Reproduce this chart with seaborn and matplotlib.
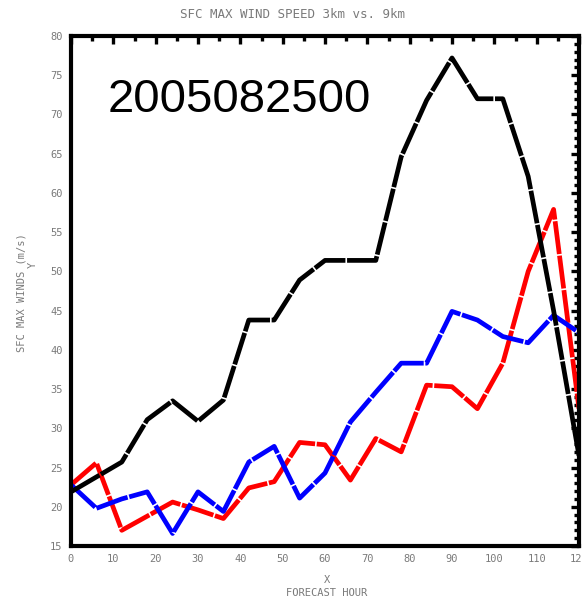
import matplotlib
matplotlib.use("Agg")
import matplotlib.pyplot as plt
from matplotlib.ticker import MultipleLocator
import seaborn as sns
import pandas as pd

# forecast hours and max surface winds (m/s)
hours = [0, 6, 12, 18, 24, 30, 36, 42, 48, 54, 60, 66, 72, 78, 84, 90, 96, 102, 108, 114, 120]
black_wind = [21.9, 23.8, 25.7, 31.1, 33.5, 30.9, 33.6, 43.8, 43.8, 48.9, 51.4, 51.4, 51.4,
              64.6, 71.8, 77.2, 72.0, 72.0, 62.1, 45.0, 26.5]
blue_wind = [22.8, 19.8, 21.0, 21.9, 16.6, 21.9, 19.4, 25.7, 27.7, 21.1, 24.3, 30.8, 34.6,
             38.3, 38.3, 44.9, 43.8, 41.7, 40.9, 44.4, 42.2]
red_wind = [22.8, 25.6, 17.0, 18.8, 20.6, 19.6, 18.5, 22.4, 23.2, 28.2, 27.9, 23.4, 28.7,
            27.0, 35.5, 35.3, 32.5, 38.3, 50.0, 57.9, 32.5]

sns.set_style("white")
plt.rcParams['font.family'] = ['DejaVu Sans Mono', 'DejaVu Sans']

gray = '#7a7a7a'
fig = plt.figure(figsize=(5.82, 5.99), dpi=100)
ax = fig.add_axes([71 / 582, 1 - 546 / 599, 508 / 582, 510 / 599])

for vals, col in [(red_wind, 'red'), (blue_wind, 'blue'), (black_wind, 'black')]:
    df = pd.DataFrame({'hour': hours, 'wind': vals})
    sns.lineplot(x='hour', y='wind', data=df, color=col, linewidth=3.4, ax=ax)
    ln = ax.get_lines()[-1]
    ln.set_dashes((7, 0.35))
    ln.set_solid_capstyle('butt')
    ln.set_dash_capstyle('butt')

ax.set_xlim(0, 120)
ax.set_ylim(15, 80)
ax.xaxis.set_major_locator(MultipleLocator(10))
ax.xaxis.set_minor_locator(MultipleLocator(5))
ax.yaxis.set_major_locator(MultipleLocator(5))
ax.yaxis.set_minor_locator(MultipleLocator(1))
ax.tick_params(which='both', direction='in', top=True, right=True, width=2.4,
               color='black', labelcolor=gray, labelsize=7.5)
ax.tick_params(which='major', length=6)
ax.tick_params(which='minor', length=3.8)
ax.tick_params(axis='x', which='both', pad=6)
ax.tick_params(axis='y', which='both', pad=6)
for s in ax.spines.values():
    s.set_linewidth(3)
    s.set_color('black')
    s.set_zorder(5)
ax.set_xlabel('')
ax.set_ylabel('')

ax.text(0.073, 0.851, '2005082500', transform=ax.transAxes, fontsize=34,
        family='Liberation Sans', color='black', va='baseline', ha='left')

fig.text(0.503, 1 - 15 / 599, 'SFC MAX WIND SPEED 3km vs. 9km', ha='center', va='center',
         fontsize=9, color=gray)
fig.text(327 / 582, 1 - 580 / 599, 'X', ha='center', va='center', fontsize=7.5, color=gray)
fig.text(327 / 582, 1 - 593 / 599, 'FORECAST HOUR', ha='center', va='center', fontsize=7.5, color=gray)
fig.text(22 / 582, 1 - 293 / 599, 'SFC MAX WINDS (m/s)', ha='center', va='center', rotation=90,
         fontsize=7.5, color=gray)
fig.text(33 / 582, 1 - 265 / 599, 'Y', ha='center', va='center', rotation=90,
         fontsize=7.5, color=gray)

fig.savefig('out.png', dpi=100)
